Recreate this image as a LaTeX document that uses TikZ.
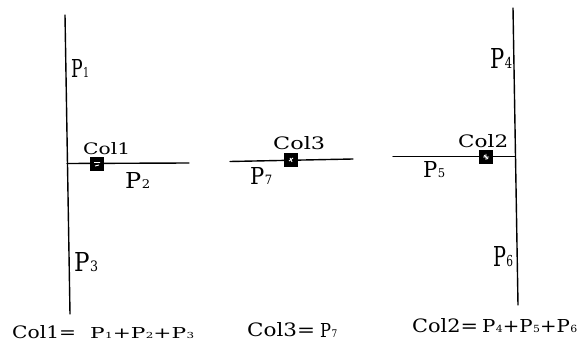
\documentclass[tikz,border=0pt]{standalone}
\usepackage{graphicx}
\usepackage{fontspec}
\newfontfamily\thk{DejaVu Serif}
\usetikzlibrary{calc}
\newcommand\Pk[1]{P\kern0.2pt{\fontsize{5.5}{5.5}\selectfont #1}}
\begin{document}
\begin{tikzpicture}[x=1pt,y=-1pt,
  member/.style={line width=1.4pt, line cap=round},
  joint/.style={draw=black, fill=black, line width=0.6pt, minimum width=13pt, minimum height=13pt, inner sep=0pt},
  jmark/.style={white, line width=0.9pt},
  lbl/.style={inner sep=0pt, anchor=base west, font=\thk}]
\useasboundingbox (0,0) rectangle (583,352);
\fill[white] (0,0) rectangle (583,352);
% ---- left joint ----
\coordinate (v1t) at (65,15);
\coordinate (v1b) at (70,314);
\coordinate (h1a) at (67,163.5);
\coordinate (h1b) at (189,163);
\draw[member] (v1t) -- (v1b);
\draw[member] (h1a) -- (h1b);
\node[joint] (s1) at (97,164) {};
\draw[jmark] ($(s1)+(-3,-1.5)$) -- ($(s1)+(3,-1.5)$) ($(s1)+(-2,2)$) -- ($(s1)+(2,1)$);
\node[lbl] (c1) at (83,155) {\resizebox{47pt}{12pt}{Col1}};
\node[lbl] (p1) at (71,78) {\resizebox{18pt}{18pt}{\Pk{1}}};
\node[lbl] (p2) at (125,189) {\resizebox{25pt}{16pt}{\Pk{2}}};
\node[lbl] (p3) at (74,272) {\resizebox{24pt}{19pt}{\Pk{3}}};
% ---- middle joint ----
\coordinate (h3a) at (230,161.5);
\coordinate (h3b) at (353,159);
\draw[member] (h3a) -- (h3b);
\node[joint] (s3) at (291,160) {};
\draw[jmark] ($(s3)+(-2,1)$) -- ($(s3)+(2,-2)$) ($(s3)+(-1,-2)$) -- ($(s3)+(1,2)$);
\node[lbl] (c3) at (273,150) {\resizebox{52pt}{13pt}{Col3}};
\node[lbl] (p7) at (250,185) {\resizebox{22pt}{17pt}{\Pk{7}}};
% ---- right joint ----
\coordinate (v2t) at (513,8);
\coordinate (v2b) at (518,305);
\coordinate (h2a) at (393,156.5);
\coordinate (h2b) at (515,156.5);
\draw[member] (v2t) -- (v2b);
\draw[member] (h2a) -- (h2b);
\node[joint] (s2) at (486,157) {};
\draw[jmark] ($(s2)+(-3,0)$) -- ($(s2)+(3,0)$) ($(s2)+(0,-3)$) -- ($(s2)+(0,3)$) ($(s2)+(-2,-2)$) -- ($(s2)+(2,2)$);
\node[lbl] (c2) at (458,148) {\resizebox{50pt}{13pt}{Col2}};
\node[lbl] (p4) at (490,69) {\resizebox{22pt}{20pt}{\Pk{4}}};
\node[lbl] (p5) at (423,178) {\resizebox{22pt}{16pt}{\Pk{5}}};
\node[lbl] (p6) at (493,267) {\resizebox{20pt}{20pt}{\Pk{6}}};
% ---- equations ----
\node[lbl] (e1) at (12,338) {\resizebox{64pt}{13pt}{Col1=}\hspace{14pt}\resizebox{104pt}{11pt}{\Pk{1}+\Pk{2}+\Pk{3}}};
\node[lbl] (e3) at (247,337) {\resizebox{68pt}{14pt}{Col3=}\hspace{5pt}\resizebox{17pt}{14pt}{\Pk{7}}};
\node[lbl] (e2) at (412,332) {\resizebox{66pt}{14pt}{Col2=}\hspace{4pt}\resizebox{95pt}{13pt}{\Pk{4}+\Pk{5}+\Pk{6}}};
\end{tikzpicture}
\end{document}
